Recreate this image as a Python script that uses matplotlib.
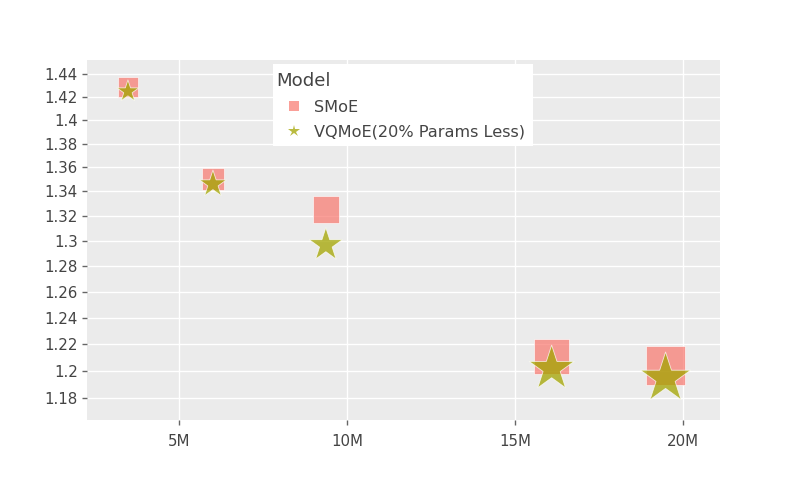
import matplotlib
matplotlib.use("Agg")
import matplotlib.pyplot as plt
from matplotlib.lines import Line2D
from matplotlib.patches import Rectangle
from matplotlib.ticker import FixedLocator, FixedFormatter, NullLocator

# data (params in millions, loss)
params_smoe = [3.48, 6.01, 9.37, 16.09, 19.48]
loss_smoe = [1.4285, 1.3503, 1.3254, 1.2107, 1.2042]
params_vq = [3.48, 6.01, 9.37, 16.09, 19.48]
loss_vq = [1.425, 1.346, 1.2966, 1.2017, 1.1946]
# marker sizes as drawn (points^2)
size_smoe = [207, 250, 369, 635, 790]
size_vq = [275, 416, 625, 1156, 1436]

y_ticks = [1.18, 1.2, 1.22, 1.24, 1.26, 1.28, 1.3, 1.32, 1.34, 1.36, 1.38, 1.4, 1.42, 1.44]
x_ticks = [5, 10, 15, 20]
x_labels = ["5M", "10M", "15M", "20M"]

plt.rcParams["font.family"] = ["DejaVu Sans"]

BG = "#EBEBEB"
TXT = "#444444"
C_SMOE = "#F8766D"
C_VQ = "#A3A500"

fig = plt.figure(figsize=(8, 5), dpi=100)
ax = fig.add_axes([87 / 800, 80 / 500, 633 / 800, 360 / 500])
ax.set_facecolor(BG)

ax.scatter(params_smoe, loss_smoe, s=size_smoe, marker="s", color=C_SMOE,
           alpha=0.7, edgecolors=(1, 1, 1, 0.4), linewidths=0.6, zorder=3)
ax.scatter(params_vq, loss_vq, s=size_vq, marker="*", color=C_VQ,
           alpha=0.75, edgecolors=(1, 1, 1, 0.6), linewidths=0.6, zorder=4)

ax.set_yscale("log")
ax.set_xlim(2.262, 21.1)
ax.set_ylim(1.1644, 1.4528)

ax.yaxis.set_major_locator(FixedLocator(y_ticks))
ax.yaxis.set_major_formatter(FixedFormatter([f"{v:g}" for v in y_ticks]))
ax.yaxis.set_minor_locator(NullLocator())
ax.xaxis.set_major_locator(FixedLocator(x_ticks))
ax.xaxis.set_major_formatter(FixedFormatter(x_labels))
ax.xaxis.set_minor_locator(NullLocator())

ax.grid(True, color="white", linewidth=1.0, zorder=0)
ax.set_axisbelow(True)
for sp in ax.spines.values():
    sp.set_visible(False)
ax.tick_params(axis="both", length=3.6, width=1, color="#666666",
               labelcolor=TXT, labelsize=10.8, pad=3)
ax.tick_params(axis="x", pad=6.5)

# white legend box (plotly style), drawn inside the axes under the legend
box = Rectangle((273 / 800, 354 / 500), 260 / 800, 82 / 500,
                transform=fig.transFigure, facecolor="white",
                edgecolor="none", zorder=9, clip_on=False)
ax.add_patch(box)

handles = [
    Line2D([], [], linestyle="none", marker="s", markersize=7,
           markerfacecolor=C_SMOE, markeredgewidth=0, alpha=0.7),
    Line2D([], [], linestyle="none", marker="*", markersize=9,
           markerfacecolor=C_VQ, markeredgewidth=0, alpha=0.75),
]
leg = ax.legend(handles, ["SMoE", "VQMoE(20% Params Less)"], title="Model",
                loc="upper left", bbox_to_anchor=(0.294, 0.975),
                borderaxespad=0, frameon=False,
                fontsize=11.6, title_fontsize=13.1, alignment="left",
                handlelength=2.2, handletextpad=0.16, labelspacing=0.6,
                borderpad=0.2)
for t in leg.get_texts():
    t.set_color(TXT)
leg.get_title().set_color(TXT)
leg.set_zorder(10)

fig.savefig("out.png", dpi=100, facecolor="white")
